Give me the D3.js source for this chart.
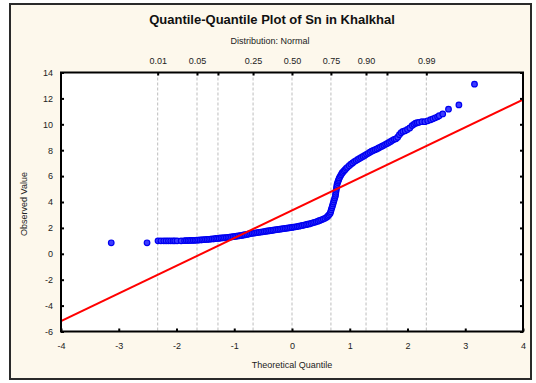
<!DOCTYPE html>
<html><head><meta charset="utf-8">
<script src="https://cdn.jsdelivr.net/npm/d3@7"></script>
<style>html,body{margin:0;padding:0;background:#fff}svg{display:block}text{font-family:Arial,"Liberation Sans",sans-serif}</style>
</head><body>
<script>
// ---- data ----
const titleText = "Quantile-Quantile Plot of Sn in Khalkhal";
const subtitleText = "Distribution: Normal";
const xTicks = [-4, -3, -2, -1, 0, 1, 2, 3, 4];
const yTicks = [-6, -4, -2, 0, 2, 4, 6, 8, 10, 12, 14];
const probLevels = [0.01, 0.05, 0.10, 0.25, 0.50, 0.75, 0.90, 0.95, 0.99];
const probZ =      [-2.326, -1.645, -1.282, -0.674, 0, 0.674, 1.282, 1.645, 2.326];
const probLabels = ["0.01", "0.05", "", "0.25", "0.50", "0.75", "0.90", "", "0.99"];
const fitX = [-4, 4];
const fitY = [-5.2, 11.9];
const theoretical = [
 -3.13,-2.51,-2.32,-2.27,-2.22,-2.18,-2.14,-2.10,-2.06,-2.03,
 -1.99,-1.92,-1.86,-1.83,-1.80,-1.77,-1.74,-1.71,-1.68,-1.65,
 -1.62,-1.59,-1.56,-1.53,-1.50,-1.47,-1.44,-1.41,-1.38,-1.35,
 -1.32,-1.29,-1.26,-1.23,-1.20,-1.17,-1.14,-1.11,-1.08,-1.05,
 -1.02,-0.99,-0.96,-0.93,-0.90,-0.87,-0.84,-0.81,-0.78,-0.75,
 -0.72,-0.69,-0.66,-0.63,-0.60,-0.57,-0.54,-0.51,-0.48,-0.45,
 -0.42,-0.39,-0.36,-0.33,-0.30,-0.27,-0.24,-0.21,-0.18,-0.15,
 -0.12,-0.09,-0.06,-0.03, 0.00, 0.03, 0.06, 0.09, 0.12, 0.15,
  0.18, 0.21, 0.24, 0.27, 0.30, 0.33, 0.36, 0.39, 0.42, 0.45,
  0.48, 0.51, 0.54, 0.57, 0.60, 0.62, 0.64, 0.66, 0.67, 0.68,
  0.69, 0.70, 0.71, 0.72, 0.73, 0.74, 0.75, 0.755, 0.76, 0.765,
  0.77, 0.775, 0.78, 0.79, 0.80, 0.81, 0.82, 0.835, 0.85, 0.865,
  0.88, 0.90, 0.92, 0.94, 0.96, 0.99, 1.02, 1.05, 1.08, 1.11,
  1.14, 1.17, 1.20, 1.23, 1.26, 1.29, 1.32, 1.35, 1.38, 1.41,
  1.44, 1.47, 1.50, 1.53, 1.56, 1.59, 1.62, 1.65, 1.68, 1.71,
  1.74, 1.77, 1.80, 1.83, 1.86, 1.89, 1.92, 1.96, 2.00, 2.04,
  2.08, 2.11, 2.14, 2.17, 2.20, 2.25, 2.30, 2.35, 2.40, 2.44,
  2.48, 2.52, 2.55, 2.61, 2.71, 2.89, 3.16
];
const observed = [
  0.85, 0.85, 1.00, 1.00, 1.00, 1.00, 1.00, 1.00, 1.00, 1.00,
  1.00, 1.00, 1.01, 1.02, 1.02, 1.03, 1.03, 1.04, 1.04, 1.05,
  1.06, 1.07, 1.08, 1.09, 1.10, 1.11, 1.12, 1.14, 1.15, 1.16,
  1.18, 1.19, 1.20, 1.22, 1.23, 1.24, 1.25, 1.27, 1.28, 1.30,
  1.32, 1.34, 1.36, 1.38, 1.40, 1.42, 1.45, 1.47, 1.50, 1.53,
  1.56, 1.58, 1.60, 1.62, 1.64, 1.66, 1.68, 1.70, 1.72, 1.74,
  1.76, 1.78, 1.80, 1.82, 1.84, 1.86, 1.88, 1.90, 1.92, 1.94,
  1.96, 1.98, 2.00, 2.02, 2.04, 2.06, 2.08, 2.10, 2.13, 2.16,
  2.19, 2.22, 2.25, 2.28, 2.31, 2.35, 2.39, 2.43, 2.47, 2.52,
  2.57, 2.62, 2.68, 2.74, 2.82, 2.90, 3.00, 3.12, 3.25, 3.40,
  3.55, 3.70, 3.85, 4.00, 4.15, 4.30, 4.45, 4.60, 4.75, 4.90,
  5.05, 5.20, 5.35, 5.50, 5.62, 5.74, 5.86, 5.98, 6.10, 6.22,
  6.30, 6.40, 6.50, 6.60, 6.68, 6.80, 6.92, 7.02, 7.12, 7.20,
  7.28, 7.36, 7.44, 7.52, 7.60, 7.68, 7.76, 7.84, 7.92, 7.98,
  8.04, 8.10, 8.17, 8.24, 8.31, 8.38, 8.45, 8.52, 8.60, 8.68,
  8.76, 8.84, 8.88, 9.00, 9.20, 9.35, 9.45, 9.50, 9.60, 9.72,
  9.90, 10.00, 10.08, 10.12, 10.15, 10.20, 10.20, 10.27, 10.35, 10.42,
  10.50, 10.58, 10.66, 10.80, 11.17, 11.50, 13.10
];
const xTitle = "Theoretical Quantile";
const yTitle = "Observed Value";

// ---- layout ----
const W = 536, H = 383;
const svg = d3.select("body").append("svg").attr("width", W).attr("height", H);
svg.append("rect").attr("x", 0).attr("y", 0).attr("width", W).attr("height", H).attr("fill", "#fff");
svg.append("rect").attr("x", 10).attr("y", 4).attr("width", 521).attr("height", 375)
  .attr("fill", "#fdf8ec").attr("stroke", "#2a2a2a").attr("stroke-width", 2);

const x = d3.scaleLinear().domain([-4, 4]).range([61, 523]);
const y = d3.scaleLinear().domain([-6, 14]).range([331.5, 72.5]);

svg.append("rect").attr("x", x(-4)).attr("y", y(14)).attr("width", x(4) - x(-4)).attr("height", y(-6) - y(14)).attr("fill", "#fff");

// dashed probability lines
svg.append("g").selectAll("line").data(probZ).join("line")
  .attr("x1", d => x(d)).attr("x2", d => x(d)).attr("y1", y(14)).attr("y2", y(-6))
  .attr("stroke", "#bdbdbd").attr("stroke-width", 1).attr("stroke-dasharray", "3,2");

// points
const n = Math.min(theoretical.length, observed.length);
const pts = d3.range(n).map(i => [theoretical[i], observed[i]]);
const clipId = "plotclip";
svg.append("clipPath").attr("id", clipId).append("rect")
  .attr("x", x(-4)).attr("y", y(14)).attr("width", x(4) - x(-4)).attr("height", y(-6) - y(14));
svg.append("g").selectAll("circle").data(pts).join("circle")
  .attr("cx", d => x(d[0])).attr("cy", d => y(d[1])).attr("r", 2.8)
  .attr("fill", "#3c3cff").attr("stroke", "#0000f0").attr("stroke-width", 1.2);

// fit line
svg.append("line").attr("clip-path", `url(#${clipId})`)
  .attr("x1", x(fitX[0])).attr("y1", y(fitY[0])).attr("x2", x(fitX[1])).attr("y2", y(fitY[1]))
  .attr("stroke", "#ff0000").attr("stroke-width", 2);

// axes
const fmt = d => String(d);
const gL = svg.append("g").attr("transform", `translate(${x(-4)},0)`)
  .call(d3.axisLeft(y).tickValues(yTicks).tickSize(-3).tickPadding(8).tickFormat(fmt));
const gR = svg.append("g").attr("transform", `translate(${x(4)},0)`)
  .call(d3.axisRight(y).tickValues(yTicks).tickSize(-3).tickFormat(""));
const gB = svg.append("g").attr("transform", `translate(0,${y(-6)})`)
  .call(d3.axisBottom(x).tickValues(xTicks).tickSize(-3).tickPadding(11).tickFormat(fmt));
const gT = svg.append("g").attr("transform", `translate(0,${y(14)})`)
  .call(d3.axisTop(x).tickValues(probZ).tickSize(-3).tickPadding(9).tickFormat((d, i) => probLabels[i]));
[gL, gR, gB, gT].forEach(g => {
  g.select(".domain").remove();
  g.selectAll(".tick line").attr("stroke", "#000").attr("stroke-width", 2);
  g.selectAll("text").attr("font-size", 9).attr("fill", "#222")
    .attr("font-family", "Arial, 'Liberation Sans', sans-serif");
});
svg.append("rect").attr("x", x(-4)).attr("y", y(14)).attr("width", x(4) - x(-4)).attr("height", y(-6) - y(14))
  .attr("fill", "none").attr("stroke", "#000").attr("stroke-width", 2);

// titles
svg.append("text").attr("x", 272).attr("y", 24).attr("text-anchor", "middle")
  .attr("font-size", 13).attr("font-weight", "bold").attr("fill", "#111").text(titleText);
svg.append("text").attr("x", 270).attr("y", 44).attr("text-anchor", "middle")
  .attr("font-size", 9).attr("fill", "#222").text(subtitleText);
svg.append("text").attr("x", 292).attr("y", 368).attr("text-anchor", "middle")
  .attr("font-size", 9).attr("fill", "#222").text(xTitle);
svg.append("text").attr("transform", "translate(27,204) rotate(-90)").attr("text-anchor", "middle")
  .attr("font-size", 9).attr("fill", "#222").text(yTitle);
</script>
</body></html>
